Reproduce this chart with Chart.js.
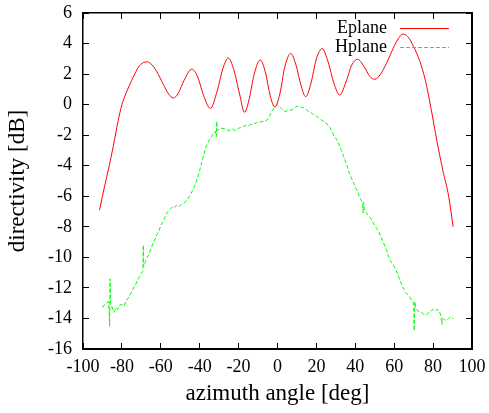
<!DOCTYPE html>
<html>
<head>
<meta charset="utf-8">
<script src="https://cdn.jsdelivr.net/npm/chart.js@4"></script>
<style>
  html, body { margin: 0; padding: 0; background: #fff; }
  #wrap { position: relative; width: 489px; height: 413px; }
  #box { position: absolute; left: 82px; top: 12px; width: 389px; height: 336px; border: 1px solid #000; pointer-events: none; }
</style>
</head>
<body>
<div id="wrap">
<canvas id="chart" width="489" height="413"></canvas>
<div id="box"></div>
</div>
<script>
// tick labels
const xTicks = [-100, -80, -60, -40, -20, 0, 20, 40, 60, 80, 100];
const yTicks = [-16, -14, -12, -10, -8, -6, -4, -2, 0, 2, 4, 6];

// Eplane (red)
const eplaneDeg = [-91.5, -89, -86.5, -84.5, -82, -80, -78.5, -76, -74, -71.5, -69, -67, -64.5, -62, -59, -56, -53.5, -51, -48, -44,
  -41, -38, -34.5, -31, -28, -25.3, -22.5, -19.5, -17, -14.5, -12, -8.8, -6, -3.8, -1.4, 1.2, 3.8, 6.8, 9.5, 12,
  14.5, 17, 20, 23, 26, 29, 32, 35, 38.2, 41.2, 44.5, 47.5, 50, 53, 56, 59.5, 62, 64.5, 67, 70,
  73, 76, 79, 82, 85, 88, 90.3];
const eplaneDb = [-6.9, -5.4, -4.0, -2.76, -1.1, 0.0, 0.55, 1.3, 1.85, 2.45, 2.75, 2.8, 2.6, 2.15, 1.4, 0.7, 0.43, 0.75, 1.6, 2.33,
  1.8, 0.6, -0.25, 0.9, 2.4, 3.05, 2.3, 0.7, -0.5, 0.4, 2.0, 2.92, 2.0, 0.6, -0.15, 0.7, 2.5, 3.35, 2.6, 1.3,
  0.52, 1.3, 3.0, 3.67, 2.8, 1.4, 0.63, 1.4, 2.6, 2.97, 2.5, 1.85, 1.66, 2.0, 2.7, 3.7, 4.3, 4.62, 4.45, 3.8,
  2.9, 1.6, -0.3, -2.4, -4.3, -6.0, -8.0];

// Hplane (green)
const hplaneDeg = [-90, -89, -88, -87, -86.6, -86.3, -86.1, -85.8, -85, -84, -83, -82, -81, -80, -79, -78, -77, -76, -75, -74,
  -73, -72, -71, -70, -69.2, -69, -68.8, -68, -67, -66, -65, -64, -63, -62, -61, -60, -59, -58, -57, -56,
  -55, -54, -53, -52, -51, -50, -49, -48, -47, -46, -45, -44, -43, -42, -41, -40, -39, -38, -37, -36,
  -35, -34, -33, -32, -31.4, -31.2, -31, -30, -29, -28, -27, -26, -25, -24, -23, -22, -21, -20, -19, -18,
  -17, -16, -15, -14, -13, -12, -11, -10, -9, -8, -7, -6, -5, -4, -3, -2, -1, 0, 1, 2,
  3, 4, 5, 6, 7, 8, 9, 10, 11, 12, 13, 14, 15, 16, 17, 18, 19, 20, 21, 22,
  23, 24, 25, 26, 27, 28, 29, 30, 31, 32, 33, 34, 35, 36, 37, 38, 39, 40, 41, 42,
  43, 43.8, 44, 44.3, 44.5, 45, 46, 47, 48, 49, 50, 51, 52, 53, 54, 55, 56, 57, 58, 59,
  60, 61, 62, 63, 64, 65, 66, 67, 68, 69, 70, 70.3, 70.6, 71, 72, 73, 74, 75, 76, 77,
  78, 79, 80, 81, 82, 83, 84, 84.5, 85, 86, 87, 88, 89, 90.5];
const hplaneDb = [-13.3, -13.1, -13.0, -12.9, -13.4, -14.5, -11.4, -13.0, -13.3, -13.6, -13.3, -13.4, -13.1, -13.1, -13.2, -12.9, -12.7, -12.5, -12.25, -12.0,
  -11.8, -11.5, -11.3, -11.05, -10.9, -9.2, -10.6, -10.3, -10.0, -9.8, -9.4, -9.1, -8.8, -8.5, -8.3, -7.9, -7.7, -7.4, -7.1, -6.95,
  -6.8, -6.7, -6.75, -6.6, -6.7, -6.6, -6.5, -6.45, -6.3, -6.15, -5.95, -5.7, -5.45, -5.15, -4.75, -4.3, -3.8, -3.3, -2.85, -2.55,
  -2.3, -2.1, -1.9, -1.75, -2.1, -1.1, -1.7, -1.6, -1.55, -1.55, -1.6, -1.65, -1.7, -1.65, -1.6, -1.7, -1.65, -1.55, -1.5, -1.45,
  -1.4, -1.35, -1.4, -1.3, -1.3, -1.25, -1.2, -1.15, -1.15, -1.1, -1.1, -1.05, -0.95, -0.7, -0.45, -0.25, -0.1, 0.0, -0.15, -0.25,
  -0.4, -0.45, -0.4, -0.35, -0.35, -0.3, -0.2, -0.1, -0.1, -0.15, -0.2, -0.25, -0.35, -0.45, -0.5, -0.6, -0.7, -0.75, -0.85, -0.95,
  -1.05, -1.1, -1.2, -1.35, -1.5, -1.75, -2.05, -2.2, -2.4, -2.75, -3.05, -3.4, -3.75, -4.1, -4.5, -4.8, -5.1, -5.4, -5.65, -6.0,
  -6.25, -6.5, -7.1, -6.4, -6.8, -6.95, -7.15, -7.3, -7.45, -7.7, -7.9, -8.1, -8.3, -8.6, -8.9, -9.2, -9.5, -9.9, -10.2, -10.4,
  -10.6, -10.85, -11.2, -11.5, -11.85, -12.1, -12.3, -12.45, -12.6, -12.8, -13.0, -14.8, -12.9, -13.3, -13.5, -13.55, -13.6, -13.7, -13.8, -13.7,
  -13.6, -13.5, -13.4, -13.5, -13.4, -13.5, -13.8, -14.4, -14.0, -14.1, -14.1, -14.0, -13.9, -14.0];

const serif = '"Liberation Serif", "Times New Roman", serif';

function toPoints(xs, ys) {
  return xs.map((x, i) => ({ x: x, y: ys[i] }));
}

// negative tickLength puts the ticks inside the box, like gnuplot
const tickGrid = { display: true, drawOnChartArea: false, drawTicks: true, tickLength: -6, color: '#000', lineWidth: 1 };
const boxBorder = { display: true, color: '#000', width: 1.5 };

// key, text on the left of the line sample
const key = {
  id: 'key',
  afterDraw(chart) {
    const ctx = chart.ctx;
    ctx.save();
    ctx.font = '18px ' + serif;
    ctx.textAlign = 'right';
    ctx.textBaseline = 'middle';
    chart.data.datasets.forEach((ds, i) => {
      const y = 28 + i * 19;
      ctx.fillStyle = '#000';
      ctx.fillText(ds.label, 387, y);
      ctx.strokeStyle = ds.borderColor;
      ctx.lineWidth = 1;
      ctx.setLineDash(ds.borderDash || []);
      ctx.beginPath();
      ctx.moveTo(400, y + 0.5);
      ctx.lineTo(449, y + 0.5);
      ctx.stroke();
    });
    ctx.restore();
  }
};

new Chart(document.getElementById('chart'), {
  type: 'scatter',
  data: {
    datasets: [{
      label: 'Eplane',
      data: toPoints(eplaneDeg, eplaneDb),
      showLine: true,
      borderColor: '#ff0000',
      borderWidth: 1,
      pointRadius: 0,
      cubicInterpolationMode: 'monotone'
    }, {
      label: 'Hplane',
      data: toPoints(hplaneDeg, hplaneDb),
      showLine: true,
      borderColor: '#00ff00',
      borderWidth: 1,
      borderDash: [4, 2],
      pointRadius: 0,
      tension: 0
    }]
  },
  plugins: [key],
  options: {
    responsive: false,
    animation: false,
    layout: { padding: { top: 13, right: 17, left: 0, bottom: 0 } },
    plugins: {
      legend: { display: false },
      tooltip: { enabled: false }
    },
    scales: {
      x: {
        type: 'linear',
        min: -100,
        max: 100,
        afterBuildTicks: s => { s.ticks = xTicks.map(v => ({ value: v })); },
        afterFit: s => { s.height = 64; s.paddingLeft = 0; s.paddingRight = 0; },
        grid: tickGrid,
        border: boxBorder,
        ticks: {
          autoSkip: false,
          maxRotation: 0,
          padding: 13,
          color: '#000',
          font: { family: serif, size: 18 }
        },
        title: {
          display: true,
          text: 'azimuth angle [deg]',
          color: '#000',
          font: { family: serif, size: 23, lineHeight: 1.2 },
          padding: { top: 0, bottom: 5 }
        }
      },
      x2: {
        type: 'linear',
        position: 'top',
        min: -100,
        max: 100,
        afterBuildTicks: s => { s.ticks = xTicks.map(v => ({ value: v })); },
        afterFit: s => { s.height = 0; s.paddingLeft = 0; s.paddingRight = 0; },
        grid: tickGrid,
        border: boxBorder,
        ticks: { display: false }
      },
      y: {
        type: 'linear',
        min: -16,
        max: 6,
        afterBuildTicks: s => { s.ticks = yTicks.map(v => ({ value: v })); },
        afterFit: s => { s.width = 83; s.paddingTop = 0; s.paddingBottom = 0; },
        grid: tickGrid,
        border: boxBorder,
        ticks: {
          autoSkip: false,
          padding: 17,
          color: '#000',
          font: { family: serif, size: 18 }
        },
        title: {
          display: true,
          text: 'directivity [dB]',
          color: '#000',
          font: { family: serif, size: 23, lineHeight: 1.2 },
          padding: { top: 4, bottom: 0 }
        }
      },
      y2: {
        type: 'linear',
        position: 'right',
        min: -16,
        max: 6,
        afterBuildTicks: s => { s.ticks = yTicks.map(v => ({ value: v })); },
        afterFit: s => { s.width = 0; s.paddingTop = 0; s.paddingBottom = 0; },
        grid: tickGrid,
        border: boxBorder,
        ticks: { display: false }
      }
    }
  }
});
</script>
</body>
</html>
